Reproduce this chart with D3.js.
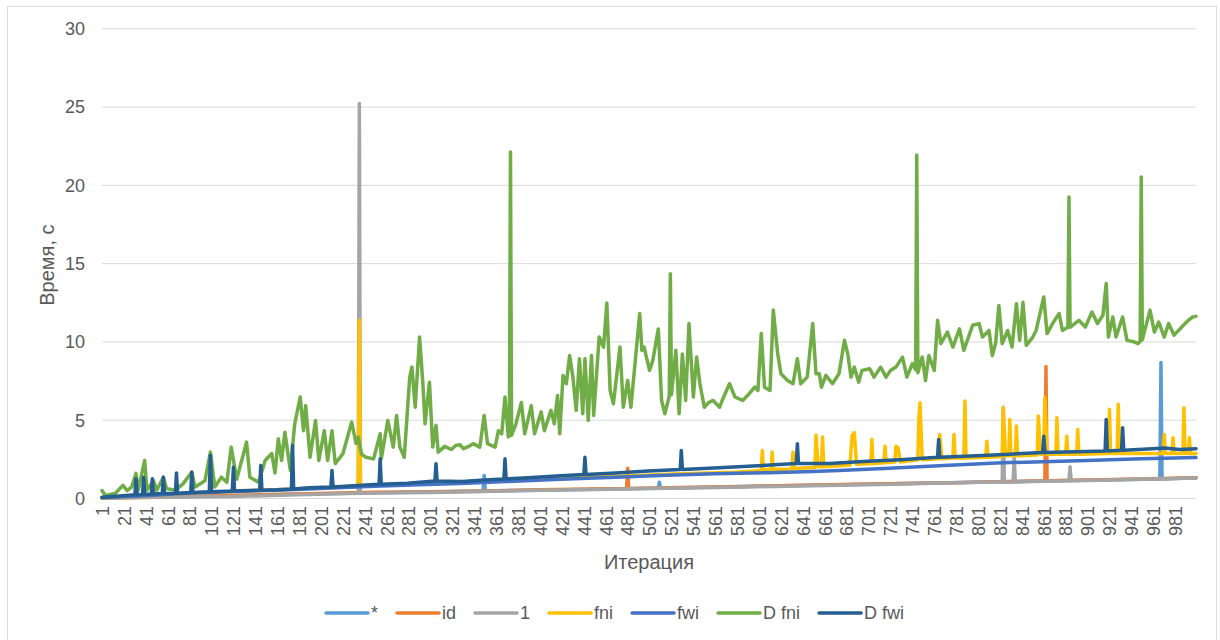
<!DOCTYPE html>
<meta charset="utf-8">
<style>
  body { margin: 0; background: #fff; }
  svg { font-family: "Liberation Sans", Arial, sans-serif; }
  .grid line { stroke: #d9d9d9; stroke-width: 1; }
  .grid path, .axis path { display: none; }
  .axis text { fill: #595959; font-size: 18px; }
  .title { fill: #595959; font-size: 20px; }
  .legend text { fill: #595959; font-size: 18px; }
</style>
<body>
<script src="https://d3js.org/d3.v7.min.js"></script>
<script>
// series names and excel default colours
var seriesNames = ["*", "id", "1", "fni", "fwi", "D fni", "D fwi"];
var seriesColors = ["#5B9BD5", "#ED7D31", "#A5A5A5", "#FFC000", "#4472C4", "#70AD47", "#255E91"];

var yTicks = [0, 5, 10, 15, 20, 25, 30];
var xTickLabels = [1, 21, 41, 61, 81, 101, 121, 141, 161, 181, 201, 221, 241, 261, 281, 301, 321, 341, 361, 381,
  401, 421, 441, 461, 481, 501, 521, 541, 561, 581, 601, 621, 641, 661, 681, 701, 721, 741, 761, 781,
  801, 821, 841, 861, 881, 901, 921, 941, 961, 981];

// [iteration, seconds]
var starPts = [[1,0.0],[50,0.06],[100,0.13],[150,0.2],[200,0.27],[250,0.34],[300,0.4],[349,0.45],[350,1.44],[351,0.45],
  [400,0.5],[450,0.56],[509,0.63],[510,1.0],[511,0.63],[560,0.7],[610,0.77],[660,0.83],[710,0.9],[760,0.96],
  [810,1.02],[860,1.08],[910,1.15],[967,1.22],[968,8.66],[969,1.22],[1000,1.3]];

var idPts = [[1,0.0],[50,0.05],[100,0.12],[150,0.2],[200,0.28],[250,0.36],[300,0.38],[350,0.45],[400,0.52],[450,0.57],
  [480,0.6],[481,1.9],[482,0.6],[530,0.67],[580,0.72],[630,0.8],[680,0.86],[730,0.92],[780,0.98],[830,1.05],
  [862,1.1],[863,8.4],[864,1.1],[900,1.15],[950,1.22],[1000,1.3]];

var onePts = [[1,0.01],[60,0.05],[120,0.1],[180,0.2],[235,0.3],[236,25.2],[237,0.3],[300,0.35],[340,0.4],[400,0.5],
  [450,0.55],[500,0.6],[550,0.65],[600,0.72],[650,0.78],[700,0.85],[750,0.92],[800,1.0],[823,1.0],[824,5.8],
  [825,1.0],[833,1.02],[834,2.6],[835,1.02],[850,1.05],[884,1.1],[885,2.0],[886,1.1],[900,1.12],[950,1.2],[1000,1.28]];

var fniPts = [[1,0.02],[40,0.15],[80,0.3],[120,0.42],[160,0.52],[200,0.62],[235,0.75],[236,11.35],[237,0.78],[280,0.9],
  [330,1.0],[380,1.15],[430,1.28],[480,1.4],[530,1.55],[580,1.65],[603,1.75],[604,3.04],[605,1.8],[612,1.8],
  [613,2.93],[614,1.82],[631,1.85],[632,2.93],[633,1.88],[652,1.95],[653,4.0],[655,2.0],[658,2.0],[659,3.9],
  [660,2.0],[684,2.1],[686,4.0],[688,4.17],[690,2.15],[703,2.2],[704,3.74],[705,2.2],[715,2.25],[716,3.31],
  [717,2.25],[725,2.3],[726,3.31],[728,3.2],[730,2.3],[746,2.45],[747,5.2],[748,6.09],[750,2.45],[765,2.5],
  [766,4.06],[768,2.5],[778,2.55],[779,4.06],[780,2.55],[788,2.55],[789,6.2],[790,2.55],[808,2.6],[809,3.63],
  [810,2.6],[823,2.65],[824,5.77],[826,2.7],[829,2.7],[830,5.02],[831,2.7],[835,2.7],[836,4.6],[837,2.7],
  [855,2.75],[856,5.24],[858,2.8],[861,2.8],[862,6.41],[864,2.8],[872,2.8],[873,5.13],[874,2.8],[881,2.8],
  [882,3.95],[883,2.8],[891,2.8],[892,4.38],[893,2.8],[920,2.85],[921,5.67],[922,2.85],[928,2.85],[929,5.98],
  [930,2.85],[970,2.85],[971,4.06],[972,2.85],[978,2.85],[979,3.85],[980,2.85],[988,2.85],[989,5.77],[990,2.85],
  [993,2.85],[994,3.85],[995,2.85],[1000,2.85]];

var fwiPts = [[1,0.02],[40,0.15],[80,0.3],[120,0.42],[160,0.5],[200,0.6],[250,0.75],[290,0.85],[328,0.93],[370,1.05],
  [420,1.2],[470,1.32],[510,1.44],[560,1.55],[610,1.62],[650,1.7],[674,1.76],[720,1.9],[770,2.08],[818,2.24],
  [860,2.32],[900,2.4],[950,2.5],[1000,2.58]];

var dFniPts = [[1,0.48],[4,0.16],[13,0.29],[20,0.8],[24,0.48],[28,0.69],[32,1.57],[34,0.48],[40,2.4],[42,0.5],
  [48,1.1],[51,0.5],[57,1.33],[60,0.6],[68,0.5],[75,0.9],[83,1.65],[86,0.7],[95,1.1],[100,2.93],
  [104,0.7],[110,1.33],[115,1.0],[119,3.25],[124,1.2],[133,3.57],[136,1.33],[144,1.0],[150,2.4],[156,2.84],
  [159,1.6],[162,3.78],[165,2.4],[168,4.2],[173,1.76],[177,4.74],[182,6.45],[185,4.3],[187,5.9],[191,2.6],
  [196,4.95],[199,2.4],[204,4.3],[207,2.4],[211,4.3],[214,2.2],[221,2.83],[229,4.85],[233,3.48],[235,3.9],
  [238,2.8],[242,2.6],[249,2.5],[255,4.1],[256,2.5],[262,4.95],[267,3.25],[270,5.27],[273,3.25],[277,2.6],
  [282,7.7],[284,8.36],[287,5.8],[291,10.28],[294,7.3],[296,4.74],[300,7.4],[303,3.25],[306,4.64],[308,2.93],
  [314,3.3],[320,3.1],[324,3.35],[328,3.4],[331,3.15],[336,3.3],[340,3.47],[346,3.25],[350,5.27],[353,3.47],
  [360,3.25],[363,4.3],[366,4.1],[369,6.45],[372,3.9],[373,4.0],[374,22.1],[375,4.0],[379,4.74],[384,6.1],
  [387,4.1],[393,5.9],[396,4.1],[402,5.5],[405,4.3],[411,5.6],[414,4.74],[417,6.55],[419,4.1],[422,7.83],
  [425,7.3],[428,9.1],[431,7.72],[434,5.6],[437,8.9],[440,5.38],[442,8.9],[445,4.96],[448,9.1],[450,5.27],
  [455,10.28],[459,9.64],[462,12.45],[465,6.87],[468,6.02],[474,9.64],[477,5.8],[481,7.5],[484,5.8],[492,11.78],
  [494,9.43],[496,9.64],[501,8.15],[504,8.79],[509,10.8],[512,6.23],[515,5.38],[519,6.5],[520,14.33],[521,6.6],
  [525,9.43],[528,5.38],[531,9.2],[534,6.23],[537,11.14],[541,6.45],[544,9.0],[547,7.3],[551,5.8],[555,6.1],
  [559,6.23],[565,5.8],[568,6.34],[574,7.3],[579,6.45],[586,6.23],[592,6.66],[597,7.08],[600,6.87],[603,10.5],
  [606,7.08],[611,6.87],[614,12.0],[618,9.22],[621,7.94],[627,7.51],[632,7.3],[636,8.9],[639,7.3],[645,7.72],
  [650,11.14],[653,7.94],[656,7.94],[658,7.08],[662,7.83],[668,7.3],[674,7.94],[679,10.07],[682,9.2],[685,7.72],
  [688,8.36],[692,7.4],[695,8.15],[702,8.26],[706,7.72],[712,8.36],[717,7.72],[721,8.15],[726,8.36],[732,9.0],
  [736,7.72],[741,8.58],[744,8.2],[745,21.9],[746,8.0],[750,9.0],[753,7.51],[756,9.1],[761,8.15],[764,11.35],
  [767,9.86],[773,10.6],[778,9.64],[784,10.8],[788,9.43],[796,11.03],[802,11.14],[805,10.28],[811,10.7],[814,9.1],
  [817,9.86],[820,12.3],[823,9.86],[828,10.7],[832,9.64],[836,12.4],[839,10.07],[842,12.5],[845,9.75],[851,10.28],
  [854,10.7],[861,12.84],[864,10.5],[869,11.14],[875,11.78],[878,10.7],[883,10.9],[884,19.23],[885,10.9],[893,11.35],
  [899,10.92],[905,11.88],[910,11.14],[915,11.67],[918,13.7],[920,10.28],[924,11.56],[927,10.28],[933,11.56],[937,10.07],
  [944,9.96],[947,9.86],[949,10.0],[950,20.5],[951,10.1],[958,12.0],[962,10.6],[966,11.24],[971,10.28],[975,11.14],
  [980,10.4],[987,10.92],[993,11.35],[997,11.56],[1000,11.6]];

var dFwiPts = [[1,0.05],[10,0.1],[20,0.15],[31,0.2],[32,1.23],[33,0.2],[38,0.22],[39,1.33],[40,0.22],[46,0.25],
  [47,1.23],[48,0.25],[56,0.28],[57,1.33],[58,0.28],[68,0.3],[69,1.59],[70,0.3],[82,0.35],[83,1.65],
  [84,0.35],[99,0.4],[100,2.72],[101,0.4],[120,0.45],[121,1.97],[122,0.45],[145,0.5],[146,2.08],[147,0.5],
  [160,0.52],[174,0.58],[175,3.36],[176,0.58],[190,0.65],[210,0.7],[211,1.76],[212,0.7],[230,0.78],[254,0.88],
  [255,2.5],[256,0.88],[280,0.95],[305,1.08],[306,2.19],[307,1.08],[330,1.05],[350,1.15],[368,1.22],[369,2.5],
  [370,1.22],[390,1.3],[420,1.42],[441,1.5],[442,2.6],[443,1.5],[470,1.6],[500,1.72],[529,1.82],[530,3.04],
  [531,1.82],[560,1.92],[600,2.06],[635,2.2],[636,3.47],[637,2.2],[665,2.2],[700,2.35],[730,2.45],[764,2.6],
  [765,3.74],[766,2.6],[800,2.7],[830,2.8],[860,2.9],[861,3.95],[862,2.9],[890,2.95],[917,3.0],[918,5.02],
  [919,3.0],[932,3.05],[933,4.49],[934,3.05],[960,3.15],[971,3.2],[985,3.1],[1000,3.15]];

var allSeries = [starPts, idPts, onePts, fniPts, fwiPts, dFniPts, dFwiPts];

var width = 1220, height = 640;
var plotLeft = 102, plotRight = 1196, plotTop = 28.3, plotBottom = 498;

var svg = d3.select("body").append("svg")
    .attr("width", width)
    .attr("height", height);

svg.append("rect")
    .attr("x", 7.5).attr("y", 6.5)
    .attr("width", 1209).attr("height", 650)
    .attr("fill", "#fff")
    .attr("stroke", "#d9d9d9");

var x = d3.scaleLinear().domain([1, 1000]).range([plotLeft, plotRight]);
var y = d3.scaleLinear().domain([0, 30]).range([plotBottom, plotTop]);

// gridlines
svg.append("g")
    .attr("class", "grid")
    .attr("transform", "translate(" + plotLeft + ",0)")
    .call(d3.axisLeft(y).tickValues(yTicks).tickSize(-(plotRight - plotLeft)).tickFormat(""));

// y labels
svg.append("g")
    .attr("class", "axis")
    .attr("transform", "translate(" + plotLeft + ",0)")
    .call(d3.axisLeft(y).tickValues(yTicks).tickSize(0).tickPadding(17))
    .selectAll("text").attr("dy", "0.35em");

// x labels, rotated
svg.append("g")
    .attr("class", "axis")
    .attr("transform", "translate(0," + plotBottom + ")")
    .call(d3.axisBottom(x).tickValues(xTickLabels).tickSize(0))
    .selectAll("text")
    .attr("transform", "rotate(-90)")
    .attr("text-anchor", "end")
    .attr("x", -8)
    .attr("y", 0)
    .attr("dy", "0.35em");

svg.append("text")
    .attr("class", "title")
    .attr("transform", "translate(47," + ((plotTop + plotBottom) / 2 + 2) + ") rotate(-90)")
    .attr("text-anchor", "middle")
    .attr("dy", "0.35em")
    .text("Время, с");

svg.append("text")
    .attr("class", "title")
    .attr("x", (plotLeft + plotRight) / 2)
    .attr("y", 562)
    .attr("text-anchor", "middle")
    .attr("dy", "0.35em")
    .text("Итерация");

var line = d3.line()
    .x(function (d) { return x(d[0]); })
    .y(function (d) { return y(d[1]); });

svg.append("g")
    .selectAll("path")
    .data(allSeries)
    .enter().append("path")
    .attr("d", line)
    .attr("fill", "none")
    .attr("stroke", function (d, i) { return seriesColors[i]; })
    .attr("stroke-width", 3.5)
    .attr("stroke-linejoin", "round")
    .attr("stroke-linecap", "round");

// legend
var legend = svg.append("g").attr("class", "legend");
var lx = 326, ly = 613;
seriesNames.forEach(function (name, i) {
  legend.append("line")
      .attr("x1", lx).attr("x2", lx + 42)
      .attr("y1", ly).attr("y2", ly)
      .attr("stroke", seriesColors[i])
      .attr("stroke-width", 3.5)
      .attr("stroke-linecap", "round");
  var t = legend.append("text")
      .attr("x", lx + 45)
      .attr("y", ly)
      .attr("dy", "0.35em")
      .text(name);
  lx = lx + 45 + t.node().getComputedTextLength() + 19;
});
</script>
</body>
</html>
